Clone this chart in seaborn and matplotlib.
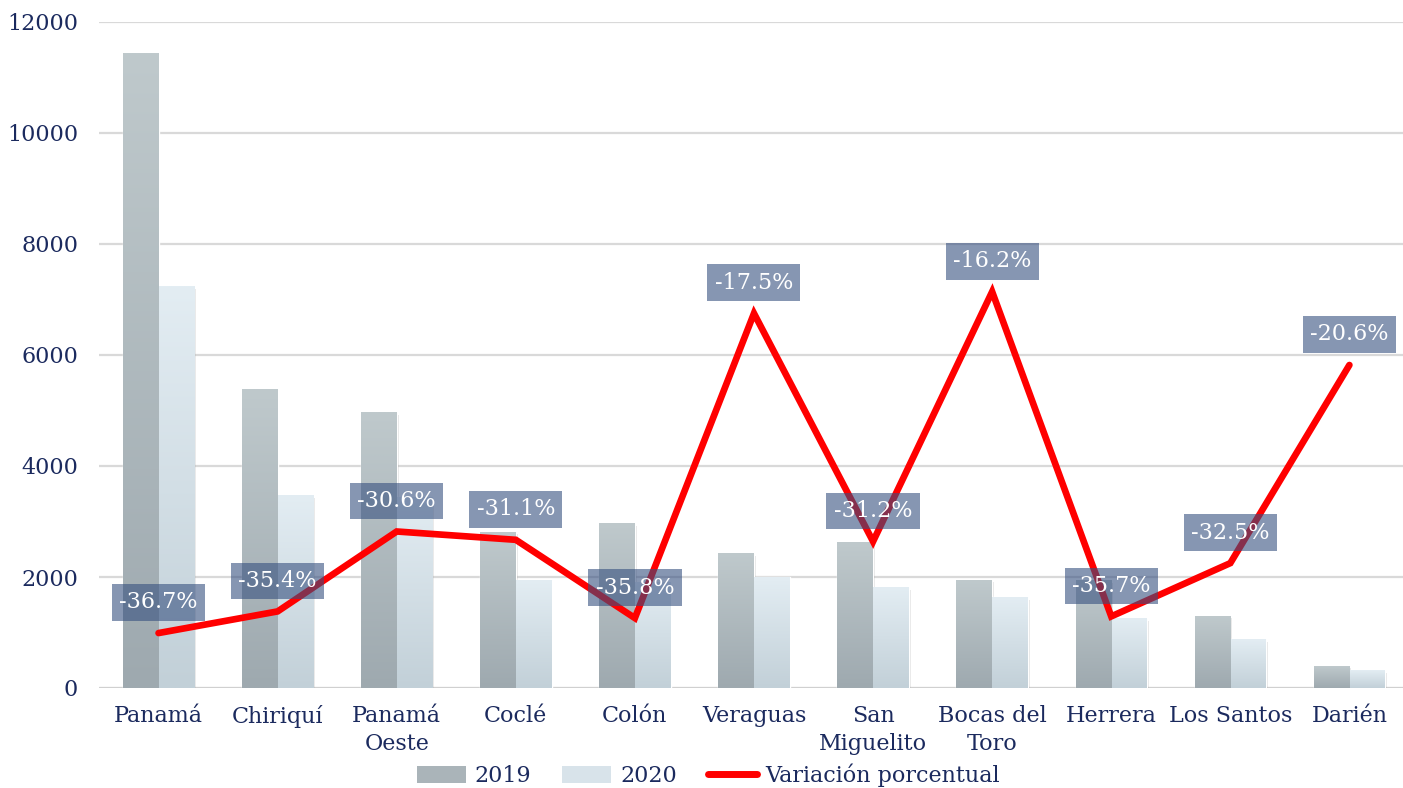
import numpy as np
import pandas as pd
import matplotlib
matplotlib.use("Agg")
import matplotlib.pyplot as plt
from matplotlib.patches import Patch
from matplotlib.lines import Line2D
from matplotlib.colors import LinearSegmentedColormap
import seaborn as sns

# ---- data ----
regiones = ["Panamá", "Chiriquí", "Panamá\nOeste", "Coclé", "Colón", "Veraguas",
            "San\nMiguelito", "Bocas del\nToro", "Herrera", "Los Santos", "Darién"]
valores_2019 = [11430, 5370, 4955, 2810, 2955, 2415, 2630, 1945, 1935, 1297, 396]
valores_2020 = [7235, 3470, 3440, 1940, 1897, 1993, 1810, 1632, 1244, 876, 314]
variacion = [-36.7, -35.4, -30.6, -31.1, -35.8, -17.5, -31.2, -16.2, -35.7, -32.5, -20.6]
etiquetas = ["-36.7%", "-35.4%", "-30.6%", "-31.1%", "-35.8%", "-17.5%",
             "-31.2%", "-16.2%", "-35.7%", "-32.5%", "-20.6%"]
anios = ["2019", "2020"]
y_ticks = [0, 2000, 4000, 6000, 8000, 10000, 12000]

df = pd.DataFrame({
    "region": regiones * 2,
    "anio": [anios[0]] * len(regiones) + [anios[1]] * len(regiones),
    "valor": valores_2019 + valores_2020,
})

navy = "#1b2a5e"
sns.set_theme(style="white")
plt.rcParams["font.family"] = ["DejaVu Serif", "DejaVu Sans"]

fig = plt.figure(figsize=(14.03, 7.88), dpi=100)
ax = fig.add_axes([99 / 1403, 1 - 688 / 788, 1 - 99 / 1403, (688 - 22) / 788])

pal = {"2019": "#aeb8bd", "2020": "#d6e1e8"}
sns.barplot(data=df, x="region", y="valor", hue="anio", palette=pal,
            width=0.6, dodge=True, ax=ax, legend=False, saturation=1,
            zorder=3)

grads = {
    "2019": LinearSegmentedColormap.from_list("g19", ["#9ea9af", "#bfc9cc"]),
    "2020": LinearSegmentedColormap.from_list("g20", ["#c2d0d8", "#e3edf3"]),
}
bars = [p for p in ax.patches if p.get_height() > 0]
grad = np.linspace(0, 1, 256).reshape(-1, 1)
for i, p in enumerate(bars):
    key = anios[0] if i < len(regiones) else anios[1]
    x0, w, h = p.get_x(), p.get_width(), p.get_height()
    # soft shadow
    ax.add_patch(plt.Rectangle((x0 + 0.015, 0), w, h - 40, fc="#000000",
                               alpha=0.10, ec="none", zorder=2))
    ax.imshow(grad, extent=[x0, x0 + w, 0, h], origin="lower", aspect="auto",
              cmap=grads[key], zorder=3.5 if key == "2019" else 3.4,
              interpolation="bilinear")

ax.set_xlim(-0.5, 10.45)
ax.set_ylim(0, 12000)
ax.set_yticks(y_ticks)
ax.set_yticklabels([str(t) for t in y_ticks])
ax.grid(axis="y", color="#d9d9d9", linewidth=1.6, zorder=0)
ax.grid(axis="x", visible=False)
ax.axhline(0, color="#d0d0d0", linewidth=2.2, zorder=1)
ax.set_axisbelow(True)
for s in ax.spines.values():
    s.set_visible(False)
ax.set_xlabel("")
ax.set_ylabel("")
ax.tick_params(axis="y", length=0, pad=15, labelsize=16, labelcolor=navy)
ax.tick_params(axis="x", length=0, pad=12, labelsize=16, labelcolor=navy)
for t in ax.get_xticklabels():
    t.set_linespacing(1.4)

# secondary axis for percentage variation
ax2 = ax.twinx()
sns.lineplot(x=np.arange(len(regiones)), y=variacion, ax=ax2, color="#ff0000",
             linewidth=4.8, zorder=5, solid_joinstyle="miter")
ax2.set_ylim(-40, 0)
ax2.set_xlim(-0.5, 10.45)
ax2.set_yticks([])
ax2.set_ylabel("")
for s in ax2.spines.values():
    s.set_visible(False)

for i, (v, lab) in enumerate(zip(variacion, etiquetas)):
    ax2.annotate(lab, xy=(i, v), xytext=(0, 22), textcoords="offset points",
                 ha="center", va="center", fontsize=16, color="white", zorder=6,
                 bbox=dict(boxstyle="square,pad=0.33", fc="#36507f", alpha=0.6,
                           ec="none"))

handles = [
    Patch(facecolor="#aab4b9", edgecolor="none", label="2019"),
    Patch(facecolor="#d8e3ea", edgecolor="none", label="2020"),
    Line2D([0], [0], color="#ff0000", linewidth=5, solid_capstyle="round",
           label="Variación porcentual"),
]
leg = fig.legend(handles=handles, loc="center", bbox_to_anchor=(0.505, 13 / 788),
                 ncol=3, frameon=False, fontsize=16, handlelength=2.2,
                 handleheight=0.8, handletextpad=0.4, columnspacing=1.4)
for t in leg.get_texts():
    t.set_color(navy)

fig.savefig("out.png", dpi=100)
